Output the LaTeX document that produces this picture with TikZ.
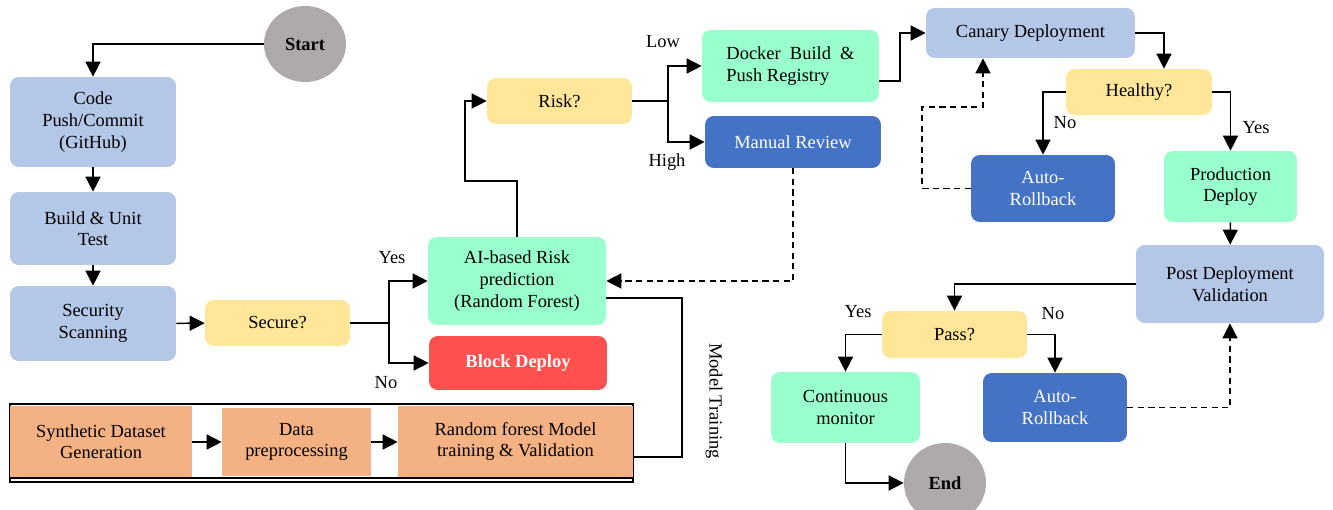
\documentclass[tikz,border=0pt]{standalone}
\usepackage{fontspec}
\setmainfont{Liberation Serif}
\usetikzlibrary{arrows.meta,shapes.geometric}

\definecolor{paleblue}{HTML}{B4C7E7}
\definecolor{paleyellow}{HTML}{FFE699}
\definecolor{mint}{HTML}{99FFCC}
\definecolor{deepblue}{HTML}{4472C4}
\definecolor{alertred}{HTML}{FF5050}
\definecolor{peach}{HTML}{F4B183}
\definecolor{stonegray}{HTML}{AEAAAA}

\begin{document}
\begin{tikzpicture}[x=0.02cm,y=-0.02cm,
  every node/.style={font=\fontsize{10.5}{12.3}\selectfont},
  box/.style={rectangle,rounded corners=5pt,align=center,inner sep=2pt},
  stage/.style={box,fill=paleblue},
  query/.style={box,fill=paleyellow,minimum width=2.9cm,minimum height=0.92cm},
  okbox/.style={box,fill=mint},
  actbox/.style={box,fill=deepblue,text=white},
  databox/.style={rectangle,fill=peach,align=center,inner sep=2pt},
  terminal/.style={ellipse,fill=stonegray,inner sep=0pt,minimum width=1.64cm,minimum height=1.52cm},
  flow/.style={line width=0.85pt,-{Triangle[length=8.5pt,width=8.5pt]}},
  dflow/.style={flow,dash pattern=on 3.5pt off 2.5pt},
  plain/.style={line width=0.85pt}
]
\useasboundingbox (0,0) rectangle (1333,510);

% ------------------------------------------------------------
% CI part: commit, build, scan
% ------------------------------------------------------------
\node[terminal] (start) at (305,44) {\textbf{Start}};
\node[stage,minimum width=3.32cm,minimum height=1.8cm] (code) at (93,122) {Code\\Push/Commit\\(GitHub)};
\node[stage,minimum width=3.32cm,minimum height=1.46cm] (build) at (93,228.5) {Build \& Unit\\Test};
\node[stage,minimum width=3.32cm,minimum height=1.5cm] (scan) at (93,323.5) {Security\\Scanning};
\node[query] (secure) at (277.5,323) {Secure?};
\node[okbox,minimum width=3.56cm,minimum height=1.76cm] (ai) at (517,281) {AI-based Risk\\prediction\\(Random Forest)};
\node[box,fill=alertred,text=white,minimum width=3.56cm,minimum height=1.08cm] (block) at (518,363) {\textbf{Block Deploy}};

% ------------------------------------------------------------
% Model training pipeline (framed)
% ------------------------------------------------------------
\draw[plain] (10,404) rectangle (633,482);
\draw[plain] (10,478) -- (633,478);
\node[databox,minimum width=3.64cm,minimum height=1.42cm] (synth) at (101,441.5) {Synthetic Dataset\\Generation};
\node[databox,minimum width=2.98cm,minimum height=1.36cm] (prep) at (296.5,442) {Data\\preprocessing};
\node[databox,minimum width=4.7cm,minimum height=1.42cm] (rf) at (515.5,441.5) {Random forest Model\\training \& Validation};
\node[rotate=-90] (mtrain) at (714,401) {Model Training};

% ------------------------------------------------------------
% Risk routing and deployment
% ------------------------------------------------------------
\node[query] (risk) at (559.5,101) {Risk?};
\node[okbox,minimum width=3.54cm,minimum height=1.44cm,align=left] (docker) at (790.5,66) {Docker\ \ Build\ \ \&\\Push Registry};
\node[actbox,minimum width=3.52cm,minimum height=1.04cm] (review) at (793,142) {Manual Review};
\node[stage,minimum width=4.18cm,minimum height=1cm] (canary) at (1030.5,33) {Canary Deployment};
\node[query,minimum width=2.92cm] (healthy) at (1139,92) {Healthy?};
\node[actbox,minimum width=2.88cm,minimum height=1.34cm] (rollA) at (1043,188.5) {Auto-\\Rollback};
\node[okbox,minimum width=2.66cm,minimum height=1.42cm] (prod) at (1230.5,186.5) {Production\\Deploy};
\node[stage,minimum width=3.76cm,minimum height=1.56cm] (post) at (1230,284) {Post Deployment\\Validation};
\node[query,minimum height=0.94cm] (pass) at (954.5,334.5) {Pass?};
\node[okbox,minimum width=2.98cm,minimum height=1.42cm] (monitor) at (845.5,407.5) {Continuous\\monitor};
\node[actbox,minimum width=2.88cm,minimum height=1.38cm] (rollB) at (1055,407.5) {Auto-\\Rollback};
\node[terminal,minimum height=1.6cm] (end) at (945,483) {\textbf{End}};

% ------------------------------------------------------------
% Bend points
% ------------------------------------------------------------
\coordinate (fork1) at (389,323);
\coordinate (fork2) at (668,101);
\coordinate (bend1) at (465,181);
\coordinate (bend2) at (900,81);
\coordinate (bend3) at (1164,33);
\coordinate (bend4) at (922,107);
\coordinate (bend5) at (983,107);
\coordinate (mt) at (682,298);

% ------------------------------------------------------------
% Connectors
% ------------------------------------------------------------
\draw[flow] (start.west) -| (code.north);
\draw[flow] (code) -- (build);
\draw[flow] (build) -- (scan);
\draw[flow] (scan) -- (secure);
\draw[plain] (secure.east) -- (fork1);
\draw[flow] (fork1) |- (ai.west);
\draw[flow] (fork1) |- (block.west);
\node (yes1) at (392,258) {Yes};
\node (no1) at (386,383) {No};

\draw[flow] (synth.east |- 0,442) -- (prep.west |- 0,442);
\draw[flow] (prep.east |- 0,442) -- (rf.west |- 0,442);
\draw[plain] (rf.east |- 0,457) -| (mt) -- (ai.east |- mt);

\draw[flow] (ai.north) |- (bend1) |- (risk.west);
\draw[plain] (risk.east) -- (fork2);
\draw[flow] (fork2) |- (docker.west);
\draw[flow] (fork2) |- (review.west);
\node (low) at (663,42) {Low};
\node (high) at (667,162) {High};
\draw[dflow] (review.south) |- (ai.east);

\draw[flow] (docker.east |- bend2) -- (bend2) |- (canary.west);
\draw[flow] (canary.east) -- (bend3) -- (bend3 |- healthy.north);
\draw[flow] (healthy.west) -| (rollA.north);
\draw[flow] (healthy.east) -| (prod.north);
\node (no2) at (1065,123) {No};
\node (yes2) at (1256,128) {Yes};
\draw[dflow] (rollA.west) -| (bend4) -- (bend5) -- (bend5 |- canary.south);

\draw[flow] (prod) -- (post);
\draw[flow] (post.west) -| (pass.north);
\draw[flow] (pass.west) -| (monitor.north);
\draw[flow] (pass.east) -| (rollB.north);
\node (yes3) at (858,312) {Yes};
\node (no3) at (1053,314) {No};
\draw[dflow] (rollB.east) -| (post.south);
\draw[flow] (monitor.south) |- (end.west);

\end{tikzpicture}
\end{document}
